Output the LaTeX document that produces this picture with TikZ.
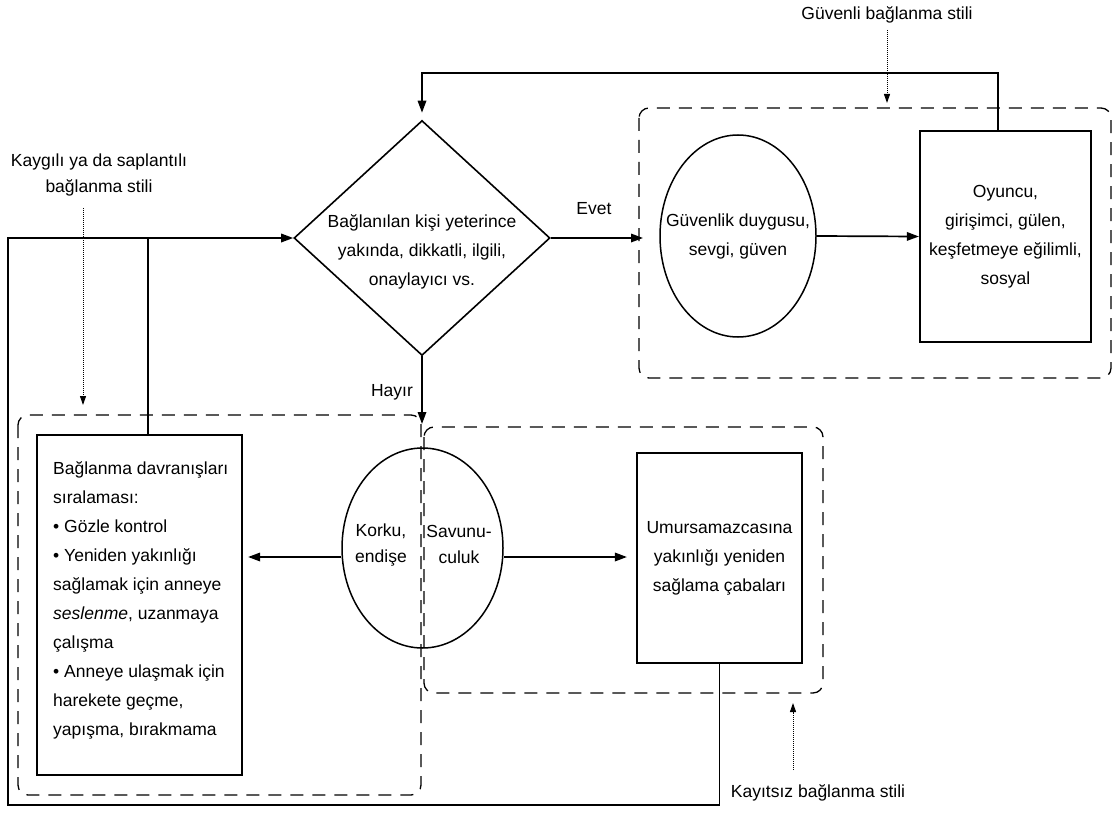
\documentclass[tikz,border=0pt]{standalone}
\usepackage{fontspec}
\setmainfont{Liberation Sans}
\usetikzlibrary{shapes.geometric,arrows.meta}
\begin{document}
\begin{tikzpicture}[x=1pt,y=-1pt,
  txt/.style={font=\fontsize{17.5}{29}\selectfont, inner sep=0pt, align=center},
  tight/.style={font=\fontsize{17.5}{26}\selectfont, inner sep=0pt, align=center},
  conn/.style={line width=1.7pt},
  arr/.style={conn, -{Triangle[length=12pt,width=8.5pt]}},
  dotarr/.style={line width=1pt, densely dotted, -{Triangle[length=9pt,width=6pt]}},
  grp/.style={line width=1.3pt, dash pattern=on 13pt off 9pt, rounded corners=10pt},
  box/.style={draw, rectangle, line width=2.2pt, inner sep=0pt, align=center, font=\fontsize{17.5}{29}\selectfont},
  oval/.style={draw, ellipse, line width=1.5pt, inner sep=0pt},
  decis/.style={draw, diamond, line width=1.6pt, inner sep=0pt}]
\useasboundingbox (0,0) rectangle (1116,813);
\fill[white] (0,0) rectangle (1116,813);

% group frames
\draw[grp] (639,108) rectangle (1111,378);
\draw[grp] (18,415) rectangle (421,795);
\draw[grp] (424,427) rectangle (823,693);

% nodes
\node[decis, minimum width=256pt, minimum height=235pt] (dec) at (422,238) {};
\node[txt] (dect) at (422,252) {Bağlanılan kişi yeterince\\yakında, dikkatli, ilgili,\\onaylayıcı vs.};
\node[oval, minimum width=156pt, minimum height=202pt] (guv) at (738,236) {};
\node[txt] (guvt) at (738,236) {Güvenlik duygusu,\\sevgi, güven};
\node[box, minimum width=171pt, minimum height=211pt] (oy) at (1005.5,236.5) {Oyuncu,\\girişimci, gülen,\\keşfetmeye eğilimli,\\sosyal};
\node[oval, minimum width=161pt, minimum height=200pt] (ko) at (422.5,548) {};
\node[tight] (kot) at (381,545) {Korku,\\endişe};
\node[tight] (savt) at (459,544) {Savunu-\\culuk};
\node[box, minimum width=165pt, minimum height=210pt] (um) at (719.5,558) {Umursamazcasına\\yakınlığı yeniden\\sağlama çabaları};
\node[box, minimum width=205pt, minimum height=340pt] (lr) at (139.5,605) {};
\node[txt, align=left, anchor=west] (lrt) at (53,600) {Bağlanma davranışları\\sıralaması:\\• Gözle kontrol\\• Yeniden yakınlığı\\sağlamak için anneye\\\textit{seslenme}, uzanmaya\\çalışma\\• Anneye ulaşmak için\\harekete geçme,\\yapışma, bırakmama};

% labels
\node[txt] (evet) at (594,209) {Evet};
\node[txt] (hayir) at (392,392) {Hayır};
\node[txt] (gst) at (887,15) {Güvenli bağlanma stili};
\node[tight] (kst) at (99,175) {Kaygılı ya da saplantılı\\bağlanma stili};
\node[txt] (kyt) at (818,793) {Kayıtsız bağlanma stili};

% helper coordinates
\coordinate (topc) at (998,73);
\coordinate (bl) at (8,805);
\coordinate (tl) at (8,238);
\coordinate (lrtop) at (148,238);
\coordinate (evetend) at (643,238);
\coordinate (hend) at (422,424);
\coordinate (gs1) at (887,30);
\coordinate (gs2) at (887,103);
\coordinate (ks1) at (83,208);
\coordinate (ks2) at (83,405);
\coordinate (ky1) at (793,770);
\coordinate (ky2) at (793,703);
\path ([yshift=-9pt]ko.west) coordinate (kw) ([yshift=-9pt]ko.east) coordinate (ke);

% connectors
\draw[arr, shorten >=7pt] (topc |- oy.north) -- (topc) -| (dec.north);
\draw[arr] (dec.east) -- (evetend);
\draw[arr] (guv.east) -- (oy.west);
\draw[arr] (um.south) |- (bl) -- (tl) -- (dec.west);
\draw[conn] (lrtop) -- (lrtop |- lr.north);
\draw[arr] (dec.south) -- (hend);
\draw[arr, shorten >=5pt] (kw) -- (kw -| lr.east);
\draw[arr, shorten >=9pt] (ke) -- (ke -| um.west);
\draw[dotarr] (gs1) -- (gs2);
\draw[dotarr] (ks1) -- (ks2);
\draw[dotarr] (ky1) -- (ky2);
\end{tikzpicture}
\end{document}
